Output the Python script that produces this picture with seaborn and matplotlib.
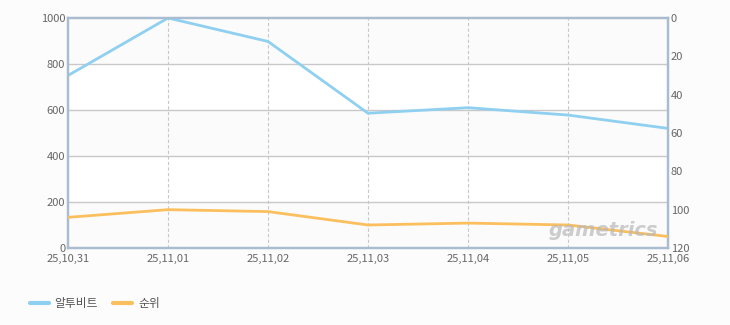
import matplotlib
matplotlib.use("Agg")
import matplotlib.pyplot as plt
import seaborn as sns
import pandas as pd

dates = ["25,10,31", "25,11,01", "25,11,02", "25,11,03", "25,11,04", "25,11,05", "25,11,06"]
players = [750, 1000, 898, 586, 610, 578, 520]
rank = [104, 100, 101, 108, 107, 108, 114]
left_ticks = [0, 200, 400, 600, 800, 1000]
right_ticks = [0, 20, 40, 60, 80, 100, 120]
series_names = ["알투비트", "순위"]

sns.set_style("white")
plt.rcParams['font.family'] = ['Noto Sans CJK KR', 'DejaVu Sans']

df = pd.DataFrame({"x": range(len(dates)), "players": players, "rank": rank})

blue = "#8fd0f0"
orange = "#fbbf5e"
spine_c = "#a9bcd0"

fig = plt.figure(figsize=(7.3, 3.25), dpi=100, facecolor="#fcfcfc")
ax = fig.add_axes([68/730, 1-248/325, 600/730, 230/325])
ax.set_facecolor("white")
for i in range(0, 1000, 200):
    if (i // 200) % 2 == 0:
        ax.axhspan(i, i + 200, color="#fbfbfb", zorder=0, lw=0)

sns.lineplot(data=df, x="x", y="players", ax=ax, color=blue, lw=2, legend=False, zorder=3)
ax.set_xlim(0, len(dates) - 1)
ax.set_ylim(0, 1000)
ax.set_yticks(left_ticks)
ax.set_xticks(range(len(dates)))
ax.set_xticklabels(dates)
ax.set_xlabel("")
ax.set_ylabel("")
for y in left_ticks[1:-1]:
    ax.axhline(y, color="#c8c8c8", lw=1, zorder=1)
for x in range(1, len(dates) - 1):
    ax.axvline(x, color="#c8c8c8", lw=0.8, ls=(0, (3, 2)), zorder=1)

ax2 = ax.twinx()
sns.lineplot(data=df, x="x", y="rank", ax=ax2, color=orange, lw=2, legend=False, zorder=3)
ax2.set_ylim(120, 0)
ax2.set_yticks(right_ticks)
ax2.set_ylabel("")
ax2.set_xlim(0, len(dates) - 1)

for a in (ax, ax2):
    for s in a.spines.values():
        s.set_color(spine_c)
        s.set_linewidth(1.6)
    a.tick_params(length=0, labelsize=8, labelcolor="#666666", pad=2)
ax.tick_params(axis="x", pad=4)

ax2.text(0.892, 0.078, "gametrics", transform=ax.transAxes, fontsize=14, fontweight="bold",
         style="italic", color="#b8b8b8", alpha=0.7, ha="center", va="center",
         family="DejaVu Sans", zorder=5)

from matplotlib.lines import Line2D
handles = [Line2D([0], [0], color=blue, lw=3), Line2D([0], [0], color=orange, lw=3)]
fig.legend(handles, series_names, loc="lower left", bbox_to_anchor=(25/730, 10/325), ncol=2,
           frameon=False, fontsize=8.5, handlelength=1.6, handletextpad=0.5, columnspacing=1.3,
           labelcolor="#555555", borderaxespad=0)

fig.savefig("out.png", dpi=100, facecolor=fig.get_facecolor())
